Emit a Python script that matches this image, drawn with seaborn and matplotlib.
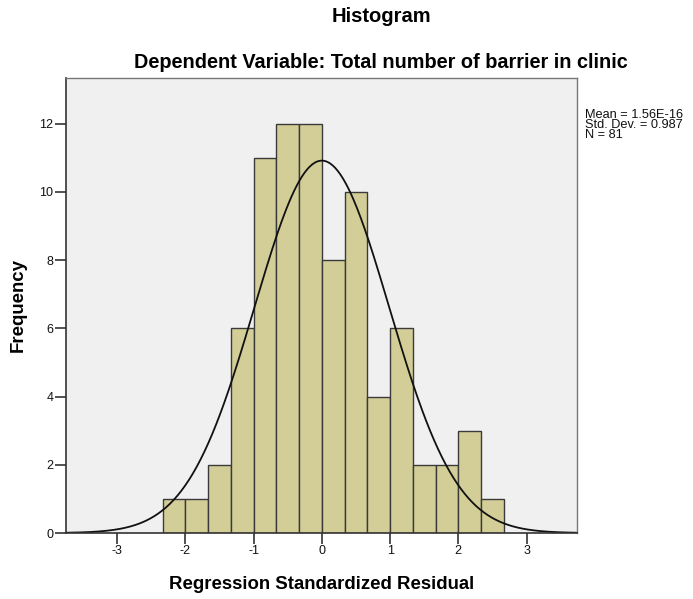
import numpy as np
import pandas as pd
import matplotlib
matplotlib.use("Agg")
import matplotlib.pyplot as plt
import seaborn as sns

# Data
bin_edges = [-7/3, -2, -5/3, -4/3, -1, -2/3, -1/3, 0, 1/3, 2/3, 1, 4/3, 5/3, 2, 7/3, 8/3]
counts = [1, 1, 2, 6, 11, 12, 12, 8, 10, 4, 6, 2, 2, 3, 1]
mean_val = 1.56e-16
std_val = 0.987
n_val = 81
x_ticks = [-3, -2, -1, 0, 1, 2, 3]
y_ticks = [0, 2, 4, 6, 8, 10, 12]
stats_lines = ["Mean = 1.56E-16", "Std. Dev. = 0.987", "N = 81"]

sns.set_style("white")
plt.rcParams['font.family'] = ['Liberation Sans', 'DejaVu Sans']
plt.rcParams['text.color'] = '#000000'
plt.rcParams['axes.labelcolor'] = '#000000'

fig = plt.figure(figsize=(6.93, 5.99), dpi=100)
ax = fig.add_axes([66/693, 1 - 533/599, (577 - 66)/693, (533 - 77.5)/599])
ax.set_facecolor('#F0F0F0')

centers = [(bin_edges[i] + bin_edges[i + 1]) / 2 for i in range(len(counts))]
df = pd.DataFrame({"x": centers, "w": counts})
sns.histplot(data=df, x="x", weights="w", bins=bin_edges, ax=ax,
             color='#D3CE97', alpha=1.0, edgecolor='#3a3a3a', linewidth=1.0)

bw = bin_edges[1] - bin_edges[0]
xs = np.linspace(-3.75, 3.75, 400)
ys = n_val * bw / (std_val * np.sqrt(2 * np.pi)) * np.exp(-0.5 * ((xs - mean_val) / std_val) ** 2)
sns.lineplot(x=xs, y=ys, ax=ax, color='#111111', linewidth=1.3)

ax.set_xlim(-3.75, 3.74)
ax.set_ylim(0, 13.35)
ax.set_xticks(x_ticks)
ax.set_xticklabels([str(t) for t in x_ticks])
ax.set_yticks(y_ticks)
ax.set_yticklabels([str(t) for t in y_ticks])
ax.tick_params(axis='both', direction='out', length=8, width=1.2, color='#333333',
               labelsize=9, labelcolor='#111111', pad=1, bottom=True, left=True)
for side in ['left', 'bottom']:
    ax.spines[side].set_color('#333333')
    ax.spines[side].set_linewidth(1.2)
for side in ['top', 'right']:
    ax.spines[side].set_color('#777777')
    ax.spines[side].set_linewidth(1.0)

ax.set_xlabel("Regression Standardized Residual", fontsize=13.4, fontweight='bold', labelpad=13)
ax.set_ylabel("Frequency", fontsize=13.4, fontweight='bold', labelpad=9)

fig.text(381/693, 1 - 17/599, "Histogram", ha='center', va='center', fontsize=14.5, fontweight='bold')
fig.text(381/693, 1 - 62/599, "Dependent Variable: Total number of barrier in clinic",
         ha='center', va='center', fontsize=14.3, fontweight='bold')
fig.text(585/693, 1 - 109/599, "\n".join(stats_lines), ha='left', va='top',
         fontsize=9.2, linespacing=0.8, color='#111111')

fig.savefig("out.png", dpi=100)
